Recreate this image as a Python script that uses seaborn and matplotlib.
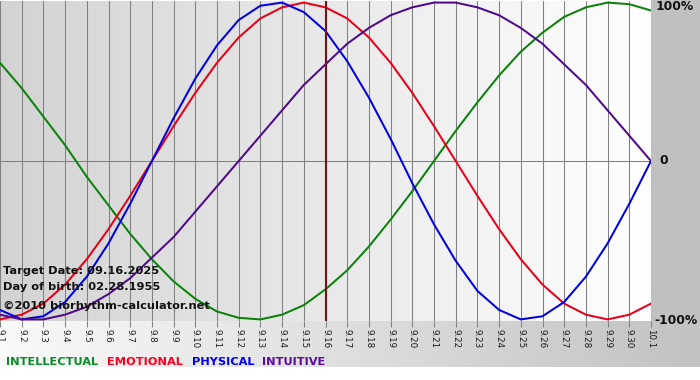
import numpy as np
import pandas as pd
import matplotlib
matplotlib.use("Agg")
import matplotlib.pyplot as plt
import seaborn as sns
from matplotlib.colors import LinearSegmentedColormap

# ---- data (percent) ----
day_labels = ["9.1", "9.2", "9.3", "9.4", "9.5", "9.6", "9.7", "9.8", "9.9", "9.10",
              "9.11", "9.12", "9.13", "9.14", "9.15", "9.16", "9.17", "9.18", "9.19", "9.20",
              "9.21", "9.22", "9.23", "9.24", "9.25", "9.26", "9.27", "9.28", "9.29", "9.30",
              "10.1"]
intellectual = [62, 46, 28, 10, -10, -28, -46, -62, -76, -87, -95, -99, -100, -97, -91, -81,
                -69, -54, -37, -19, 0, 19, 37, 54, 69, 81, 91, 97, 100, 99, 95]
emotional = [-100, -97, -90, -78, -62, -43, -22, 0, 22, 43, 62, 78, 90, 97, 100, 97, 90, 78,
             62, 43, 22, 0, -22, -43, -62, -78, -90, -97, -100, -97, -90]
physical = [-94, -100, -98, -89, -73, -52, -27, 0, 27, 52, 73, 89, 98, 100, 94, 82, 63, 40,
            14, -14, -40, -63, -82, -94, -100, -98, -89, -73, -52, -27, 0]
intuitive = [-97, -100, -100, -97, -92, -84, -74, -61, -48, -32, -16, 0, 16, 32, 48, 61, 74,
             84, 92, 97, 100, 100, 97, 92, 84, 74, 61, 48, 32, 16, 0]
series_names = ["INTELLECTUAL", "EMOTIONAL", "PHYSICAL", "INTUITIVE"]
target_index = 15  # 9.16
target_text = "Target Date: 09.16.2025"
birth_text = "Day of birth: 02.28.1955"
credit_text = "\u00a92010 biorhythm-calculator.net"
y_labels = ["100%", "0", "-100%"]

colors = {"INTELLECTUAL": "#0a820a", "EMOTIONAL": "#e8001a",
          "PHYSICAL": "#0000e0", "INTUITIVE": "#4e0a8a"}
legend_colors = {"INTELLECTUAL": "#0a8a2a", "EMOTIONAL": "#ff0020",
                 "PHYSICAL": "#0000f0", "INTUITIVE": "#5a0aa0"}

days = np.arange(len(day_labels))
df = pd.concat([
    pd.DataFrame({"day": days, "value": vals, "series": name})
    for name, vals in zip(series_names, [intellectual, emotional, physical, intuitive])
])

sns.set_style("white")
plt.rcParams["font.family"] = ["DejaVu Sans"]

W, H = 700, 380
fig = plt.figure(figsize=(7, 3.8), dpi=100)
fig.patch.set_facecolor("white")

# background layer in pixel coords
bg = fig.add_axes([0, 0, 1, 1], zorder=-10)
bg.set_xlim(0, W)
bg.set_ylim(H, 0)
bg.axis("off")
grad = np.linspace(0, 1, 256).reshape(1, -1)
cm_bottom = LinearSegmentedColormap.from_list("b", ["#fafafa", "#c2c2c2"])
bg.imshow(grad, extent=(0, W, 367, 321), cmap=cm_bottom, aspect="auto")
bg.add_patch(plt.Rectangle((651, 0), W - 651, 321, color="#c0c0c0", lw=0))

left_px, right_px, top_px, bot_px = 0, 651, 1, 321
ax = fig.add_axes([left_px / W, 1 - bot_px / H, (right_px - left_px) / W, (bot_px - top_px) / H])
ax.set_facecolor("none")
ax.set_xlim(0, len(day_labels) - 1)
ax.set_ylim(-101, 101)
cm_plot = LinearSegmentedColormap.from_list("p", ["#d3d3d3", "#ffffff"])
ax.imshow(grad, extent=(0, len(day_labels) - 1, -101, 101), cmap=cm_plot,
          aspect="auto", zorder=0)

for d in days:
    ax.axvline(d, color="#808080", lw=0.75, zorder=1)
ax.axhline(0, color="#808080", lw=0.75, zorder=1)
ax.axvline(target_index, color="#7a1010", lw=1.5, zorder=3)

sns.lineplot(data=df, x="day", y="value", hue="series", palette=colors,
             hue_order=series_names, linewidth=1.45, legend=False, ax=ax, zorder=2)

for s in ax.spines.values():
    s.set_visible(False)
ax.set_xlabel("")
ax.set_ylabel("")
ax.set_yticks([])
ax.set_xticks(days)
ax.set_xticklabels(day_labels, rotation=270, fontsize=6.3, color="#1a1a1a")
ax.tick_params(axis="x", length=4, width=0.75, color="#808080", pad=1.5, bottom=True)

txt = dict(fontsize=8.2, fontweight="bold", color="#111111",
           va="center", ha="left")
fig.text(3 / W, 1 - 271 / H, target_text, **txt)
fig.text(3 / W, 1 - 287 / H, birth_text, **txt)
fig.text(3 / W, 1 - 306 / H, credit_text, **txt)

rt = dict(fontsize=8.9, fontweight="bold", color="#111111", va="center", ha="left")
fig.text(656 / W, 1 - 7 / H, y_labels[0], **rt)
fig.text(659 / W, 1 - 161 / H, y_labels[1], **rt)
fig.text(654 / W, 1 - 321 / H, y_labels[2], **rt)

leg_x = [6, 107, 192, 262]
for name, x in zip(series_names, leg_x):
    fig.text(x / W, 1 - 362 / H, name, fontsize=8.2, fontweight="bold",
             color=legend_colors[name], va="center", ha="left")

fig.savefig("out.png", dpi=100)
